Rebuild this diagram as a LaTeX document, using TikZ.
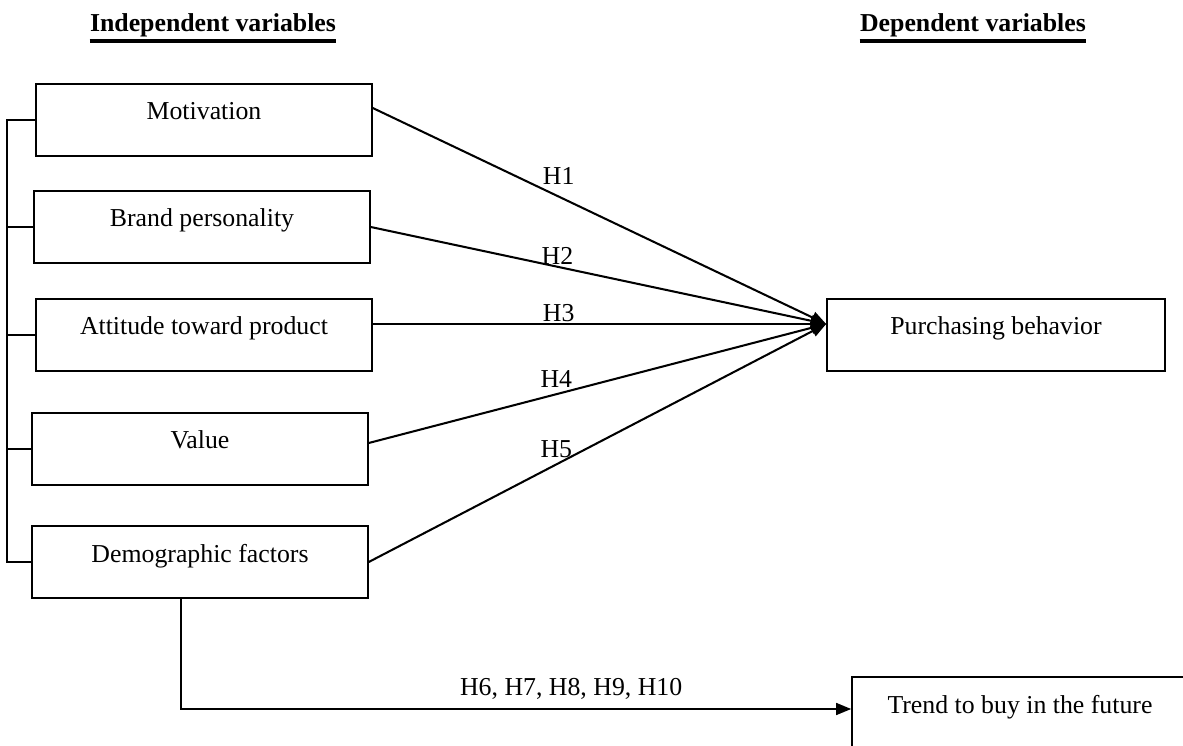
\documentclass[tikz,border=0pt,12pt]{standalone}
\usepackage{fontspec}
\setmainfont{Liberation Serif}
\usetikzlibrary{arrows.meta,calc}

\begin{document}
\begin{tikzpicture}[x=0.465pt,y=-0.465pt,
    var/.style={rectangle,draw,line width=0.95pt,minimum width=156pt,
      minimum height=33.5pt,text height=8pt,text depth=8pt,inner sep=0pt},
    head/.style={anchor=base,font=\bfseries,inner xsep=0pt},
    link/.style={line width=0.95pt,-{Triangle[length=7pt,width=5.5pt]}},
    hyp/.style={pos=0.41,anchor=center}]
  \useasboundingbox (0,0) rectangle (1183,746);
  \clip (0,0) rectangle (1183,746);

  % headings
  \node[head] (indep) at (213,32) {Independent variables};
  \node[head] (dep) at (973,32) {Dependent variables};
  \draw[line width=1.4pt] ($(indep.base west)+(0,9)$) -- ($(indep.base east)+(0,9)$);
  \draw[line width=1.4pt] ($(dep.base west)+(0,9)$) -- ($(dep.base east)+(0,9)$);

  % independent variables
  \node[var] (motivation) at (204,120) {Motivation};
  \node[var] (brand) at (202,227) {Brand personality};
  \node[var] (attitude) at (204,335) {Attitude toward product};
  \node[var] (value) at (200,449) {Value};
  \node[var] (demographic) at (200,562) {Demographic factors};

  % dependent variables
  \node[var,minimum width=157pt] (purchasing) at (996,335)
       {Purchasing behavior};
  \node[var] (trend) at (1020,713) {Trend to buy in the future};

  % bracket on the left
  \draw[line width=0.9pt] (motivation.west) -- ++(-28,0) coordinate (brtop)
       |- (demographic.west);
  \foreach \v in {brand,attitude,value}
    \draw[line width=0.9pt] (\v.west) -- (\v.west -| brtop);

  % hypotheses
  \coordinate (hub) at ($(purchasing.west)+(0,-11)$);
  \draw[link] ($(motivation.east)+(0,-12)$) to
       node[hyp,yshift=9.8pt]{H1} (hub);
  \draw[link] (brand.east) to
       node[hyp,yshift=5pt]{H2} (hub);
  \draw[link] (attitude.east |- hub) to
       node[hyp,yshift=5pt]{H3} (hub);
  \draw[link] ($(value.east)+(0,-6)$) to
       node[hyp,yshift=7pt]{H4} (hub);
  \draw[link] (demographic.east) to
       node[hyp,yshift=7pt]{H5} (hub);

  \coordinate (trendin) at ($(trend.west)+(0,-4)$);
  \draw[link] ($(demographic.south west)+(150,0)$) |-
       node[pos=0.791,above]{H6, H7, H8, H9, H10} (trendin);
\end{tikzpicture}
\end{document}
